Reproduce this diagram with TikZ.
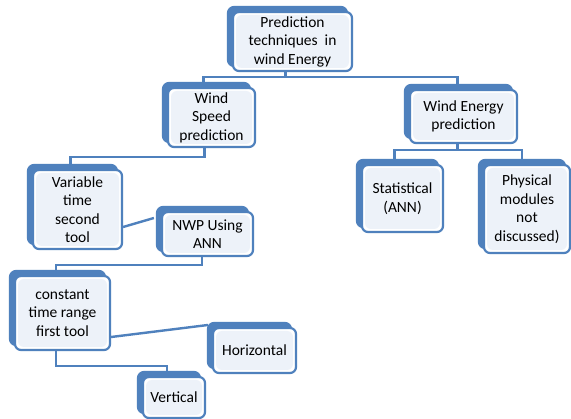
\documentclass[tikz,border=0pt]{standalone}
\usepackage{fontspec}
\setmainfont{Carlito}
\usetikzlibrary{shadows}
\definecolor{bblue}{HTML}{4F81BD}
\definecolor{lfill}{HTML}{EDF2F9}
\pgfdeclarelayer{bg}
\pgfdeclarelayer{background}
\pgfsetlayers{bg,background,main}
\tikzset{
  box/.style={draw=bblue, line width=2.2pt, rounded corners=6pt, fill=white,
    align=center, inner sep=0pt, text=black,
    font=\fontsize{15.5}{18.5}\selectfont,
    copy shadow={shadow xshift=-5pt, shadow yshift=5pt, fill=bblue, draw=bblue},
    path picture={\fill[lfill] ([shift={(3pt,3pt)}]path picture bounding box.south west)
      rectangle ([shift={(-3pt,-3pt)}]path picture bounding box.north east);}},
  conn/.style={draw=bblue, line width=2.4pt}
}
\begin{document}
\begin{tikzpicture}
\useasboundingbox (0,0) rectangle (571pt,-419pt);
\begin{pgfonlayer}{bg}
\fill[white] (0,0) rectangle (571pt,-419pt);
\end{pgfonlayer}
\node[box, minimum width=119pt, minimum height=59pt] (top) at (292.5pt,-41.5pt) {Prediction\\techniques~~in\\wind Energy};
\node[box, minimum width=87pt, minimum height=59pt] (ws) at (211.5pt,-117.5pt) {Wind\\Speed\\prediction};
\node[box, minimum width=107pt, minimum height=53pt] (we) at (463.5pt,-116.5pt) {Wind Energy\\prediction};
\node[box, minimum width=81pt, minimum height=67pt] (stat) at (402.5pt,-198.5pt) {Statistical\\(ANN)};
\node[box, minimum width=86pt, minimum height=88pt] (phys) at (527pt,-209pt) {Physical\\modules\\not\\discussed)};
\node[box, minimum width=89pt, minimum height=79pt] (var) at (77.5pt,-209.5pt) {Variable\\time\\second\\tool};
\node[box, minimum width=91pt, minimum height=44pt] (nwp) at (207.5pt,-234pt) {NWP Using\\ANN};
\node[box, minimum width=95pt, minimum height=74pt] (const) at (62.5pt,-313pt) {constant\\time range\\first tool};
\node[box, minimum width=83pt, minimum height=45pt] (horiz) at (254.5pt,-350.5pt) {Horizontal};
\node[box, minimum width=62pt, minimum height=41pt] (vert) at (174pt,-397.5pt) {Vertical};
\begin{pgfonlayer}{background}
\draw[conn] ([xshift=-7pt]top.south) -- ++(0,-5pt) -| ([xshift=-8pt]ws.north);
\draw[conn] ([xshift=-7pt]top.south) -- ++(0,-5pt) -| ([xshift=-6pt]we.north);
\draw[conn] ([xshift=-7pt]ws.south) -- ++(0,-9pt) -| ([xshift=-7pt]var.north);
\draw[conn] ([xshift=-6pt]we.south) -- ++(0,-6pt) -| ([xshift=-8pt]stat.north);
\draw[conn] ([xshift=-6pt]we.south) -- ++(0,-6pt) -| ([xshift=-5pt]phys.north);
\draw[conn] ([yshift=-17.5pt]var.east) -- ([xshift=-7pt,yshift=16pt]nwp.west);
\draw[conn] ([xshift=-5.5pt]nwp.south) -- ++(0,-8pt) -| ([xshift=-6.5pt]const.north);
\draw[conn] ([yshift=-24pt]const.east) -- ([xshift=-4pt,yshift=25.5pt]horiz.west);
\draw[conn] ([xshift=-6.5pt]const.south) -- ++(0,-15pt) -| ([xshift=-7pt]vert.north);
\end{pgfonlayer}
\end{tikzpicture}
\end{document}
